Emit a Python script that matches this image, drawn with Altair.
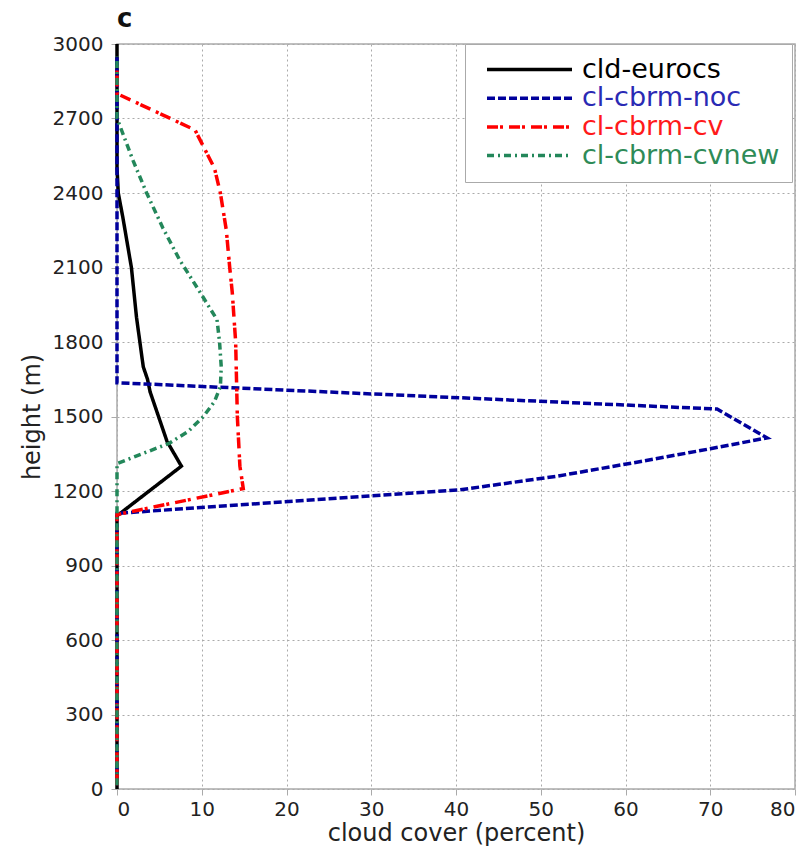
import altair as alt
import pandas as pd

# ---- data ----
series_names = ["cld-eurocs", "cl-cbrm-noc", "cl-cbrm-cv", "cl-cbrm-cvnew"]
line_colors = ["#000000", "#00009c", "#ff0000", "#23875a"]
label_colors = ["#000000", "#2a2ab4", "#ff1a1a", "#2e8b57"]
dash_patterns = [[1, 0], [8, 3], [11, 2, 3, 6], [7, 4, 2, 4]]

eurocs_h = [0, 1100, 1300, 1400, 1500, 1600, 1650, 1700, 1800, 1900, 2000, 2100, 2200, 2300, 2400, 2500, 3000]
eurocs_cc = [0, 0, 7.6, 5.9, 4.9, 3.9, 3.6, 3.1, 2.7, 2.3, 2.0, 1.7, 1.2, 0.7, 0.15, 0, 0]

noc_h = [15, 1110, 1205, 1260, 1320, 1370, 1414, 1530, 1636, 2950]
noc_cc = [0, 0, 40.5, 52, 62, 70, 76.7, 70.8, 0, 0]

cv_h = [15, 1105, 1210, 1300, 1500, 1800, 2000, 2100, 2250, 2400, 2500, 2587, 2654, 2800, 2900]
cv_cc = [0, 0, 14.9, 14.5, 14.2, 14.0, 13.6, 13.3, 12.9, 12.2, 11.5, 10.2, 9.2, 0, 0]

cvnew_h = [15, 1310, 1350, 1393, 1440, 1500, 1560, 1620, 1700, 1800, 1890, 2000, 2130, 2260, 2400, 2530, 2670, 2700, 2950]
cvnew_cc = [0, 0, 3.0, 6.2, 8.4, 10.2, 11.5, 12.2, 12.3, 12.1, 11.8, 9.8, 7.4, 5.4, 3.5, 1.9, 0.35, 0, 0]

x_ticks = [0, 10, 20, 30, 40, 50, 60, 70, 80]
y_ticks = [0, 300, 600, 900, 1200, 1500, 1800, 2100, 2400, 2700, 3000]

rows = []
for name, hs, cs in zip(series_names,
                        [eurocs_h, noc_h, cv_h, cvnew_h],
                        [eurocs_cc, noc_cc, cv_cc, cvnew_cc]):
    for i, (h, c) in enumerate(zip(hs, cs)):
        rows.append({"series": name, "h": h, "cc": c, "idx": i})
df = pd.DataFrame(rows)

label_expr = ""
for n, col in zip(series_names[:-1], label_colors[:-1]):
    label_expr += f"datum.label == '{n}' ? '{col}' : "
label_expr += f"'{label_colors[-1]}'"

legend = alt.Legend(
    title=None, orient="none", legendX=348, legendY=0,
    symbolType="stroke", symbolSize=85 * 85, symbolStrokeWidth=3.5,
    clipHeight=27, rowPadding=0.7, padding=12, symbolOffset=8, labelOffset=8,
    labelFont="DejaVu Sans", labelFontSize=27, labelLimit=400,
    labelColor=alt.ExprRef(expr=label_expr),
    strokeColor="#aaaaaa", fillColor="white",
)

chart = alt.Chart(df).mark_line(strokeWidth=3.5).encode(
    x=alt.X("cc:Q", scale=alt.Scale(domain=[0, 80], nice=False, zero=False),
            axis=alt.Axis(values=x_ticks, title="cloud cover (percent)", format="d",
                          labelPadding=4, titlePadding=2)),
    y=alt.Y("h:Q", scale=alt.Scale(domain=[0, 3000], nice=False),
            axis=alt.Axis(values=y_ticks, title="height (m)", format="d",
                          labelPadding=8, titlePadding=8)),
    color=alt.Color("series:N", scale=alt.Scale(domain=series_names, range=line_colors), legend=legend),
    strokeDash=alt.StrokeDash("series:N", scale=alt.Scale(domain=series_names, range=dash_patterns), legend=legend),
    order="idx:Q",
).properties(
    width=678, height=745,
    title=alt.Title("c", anchor="start", frame="group", fontSize=26, fontWeight="bold",
                    font="DejaVu Sans", offset=2, color="#111111"),
    autosize=alt.AutoSizeParams(type="none"),
    padding={"left": 117, "top": 44, "right": 15, "bottom": 65},
).configure_view(
    stroke="#aaaaaa", strokeWidth=1.5
).configure_axis(
    labelFont="DejaVu Sans", labelFontSize=20, labelColor="#222222",
    titleFont="DejaVu Sans", titleFontSize=24, titleFontWeight="normal", titleColor="#222222",
    gridColor="#aaaaaa", gridDash=[2, 3], gridWidth=1,
    tickColor="#aaaaaa", tickSize=6, domain=False,
)

chart.save("out.html", embed_options={"renderer": "svg", "actions": False})
